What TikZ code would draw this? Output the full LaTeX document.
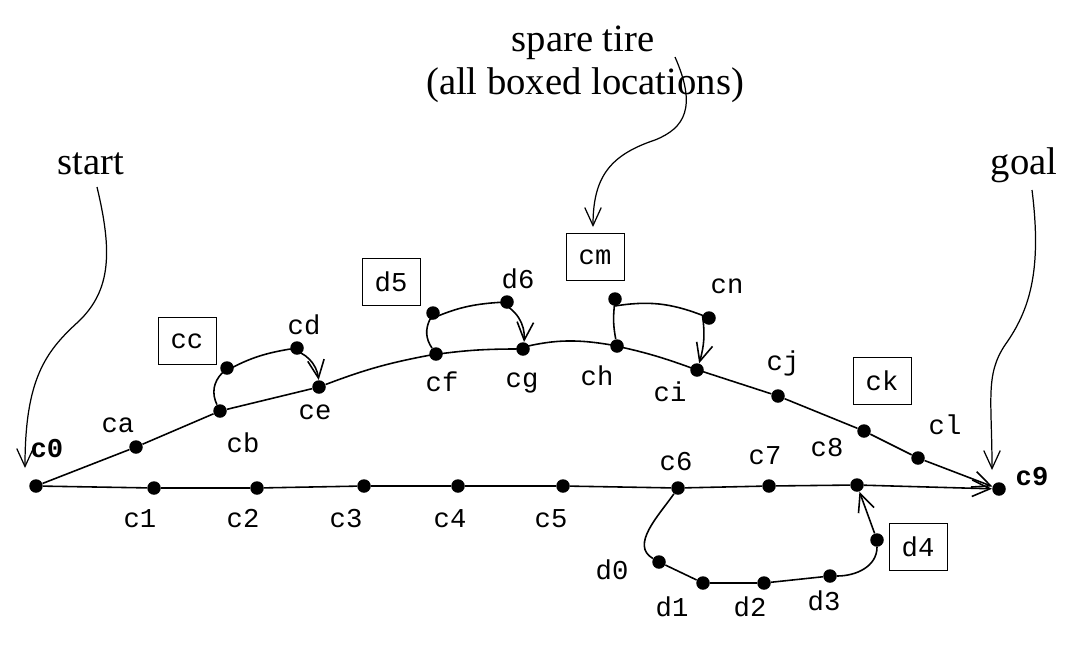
\documentclass[tikz,border=0pt]{standalone}
\usepackage{fontspec}
\setmainfont{Liberation Serif}
\setmonofont{Liberation Mono}
\usetikzlibrary{arrows.meta}

\begin{document}
\begin{tikzpicture}[x=0.02cm,y=-0.02cm,>={Straight Barb[length=3.6mm,width=3.3mm]},
  locDot/.style={circle,fill,inner sep=0pt,minimum size=0.27cm},
  locLbl/.style={font=\ttfamily\fontsize{15.5}{17}\selectfont,inner sep=0pt},
  goalLbl/.style={locLbl,font=\ttfamily\bfseries\fontsize{15.5}{17}\selectfont},
  boxLbl/.style={locLbl,draw,line width=0.5pt,minimum width=1.16cm,minimum height=0.94cm},
  noteTxt/.style={font=\fontsize{22}{27}\selectfont,inner sep=0pt,anchor=base},
  route/.style={line width=0.9pt},
  pointer/.style={line width=0.7pt,->}]
  \useasboundingbox (0,0) rectangle (1074,656);
  % locations
  \foreach \n/\x/\y in {c0/36/486,c1/154/488,c2/257/488,c3/364/486,c4/458/486,
      c5/563/486,c6/678/488,c7/769/486,c8/857/485,c9/999/489,
      ca/136/447,cb/220/411,cc/227/368,cd/297/348,ce/319/387,
      cf/436/354,d5/433/313,d6/507/302,cg/523/349,
      ch/617/346,cm/615/299,cn/709/318,ci/697/370,
      cj/778/396,ck/864/431,cl/918/458,
      d0/659/562,d1/703/583,d2/764/583,d3/830/576,d4/877/540}
    \node[locDot] (\n) at (\x,\y) {};
  % names
  \foreach \n/\x/\y in {ca/118/425,cb/243/443,cd/304/325,ce/315/412,
      d6/518/279,cf/442/382,cg/522/383,ch/597/376,cn/727/286,ci/670/392,
      cj/783/363,cl/945/425,c8/827/448,c7/765/456,c6/676/462,
      c1/140/519,c2/243/519,c3/346/519,c4/450/519,c5/551/519,
      d0/612/570,d1/672/607,d2/750/607,d3/824/601}
    \node[locLbl] (t\n) at (\x,\y) {\n};
  \node[goalLbl] (tc0) at (47,449) {c0};
  \node[goalLbl] (tc9) at (1032,477) {c9};
  % boxed = spare tire
  \foreach \n/\x/\y in {cc/187/341,d5/391/282,cm/595/257,ck/882/381,d4/918/547}
    \node[boxLbl] (t\n) at (\x,\y) {\n};
  % routes
  \draw[route,->] (c0) -- (c1) -- (c2) -- (c3) -- (c4) -- (c5) -- (c6) -- (c7) -- (c8) -- (c9);
  \draw[route,->] (c0) -- (ca) -- (cb) -- (ce) to[bend left=5] (cf) to[bend left=4] (cg)
    to[bend left=12] (ch) to[bend left=4] (ci) -- (cj) -- (ck) -- (cl) -- (c9);
  \draw[route,->] (cb) to[bend left=35] (cc) to[bend left=10] (cd) to[bend left=35] (ce);
  \draw[route,->] (cf) to[bend left=30] (d5) to[bend left=10] (d6) to[bend left=35] (cg);
  \draw[route,->] (ch) to[bend left=8] (cm) to[bend left=15] (cn) to[bend left=12] (ci);
  \draw[route,->] (c6) to[out=235,in=150] (d0) -- (d1) -- (d2) -- (d3)
    to[out=0,in=-90] (d4) -- (c8);
  % notes
  \node[noteTxt] (start) at (91,174) {start};
  \node[noteTxt] (spare) at (583,51) {spare tire};
  \node[noteTxt] (boxed) at (585,94) {(all boxed locations)};
  \node[noteTxt] (goal) at (1024,174) {goal};
  \coordinate (s0) at (97,187);
  \coordinate (s1) at (78,322);
  \coordinate (s2) at (25,468);
  \draw[pointer] (s0) .. controls (112,250) and (112,290) .. (s1)
    .. controls (45,352) and (25,380) .. (s2);
  \coordinate (p0) at (675,57);
  \coordinate (p1) at (655,140);
  \coordinate (p2) at (593,227);
  \draw[pointer] (p0) .. controls (697,107) and (685,128) .. (p1)
    .. controls (610,155) and (593,177) .. (p2);
  \coordinate (g0) at (1032,190);
  \coordinate (g1) at (1005,345);
  \coordinate (g2) at (992,470);
  \draw[pointer] (g0) .. controls (1042,270) and (1030,310) .. (g1)
    .. controls (985,375) and (992,400) .. (g2);
\end{tikzpicture}
\end{document}
